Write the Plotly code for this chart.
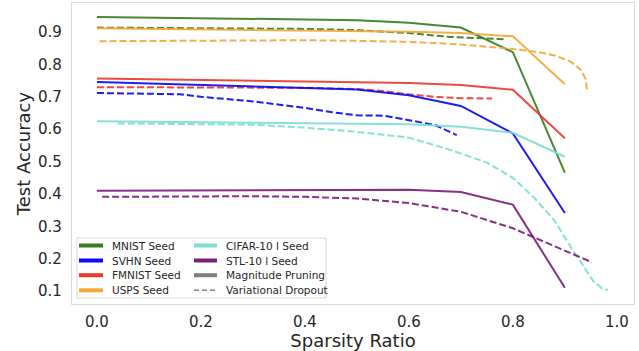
import plotly.graph_objects as go

# ---------------- data ----------------
seed_x = [0.0, 0.5, 0.6, 0.7, 0.8, 0.9]
mnist_seed = [0.947, 0.937, 0.929, 0.914, 0.838, 0.466]
svhn_seed = [0.746, 0.723, 0.705, 0.672, 0.587, 0.341]
fmnist_seed = [0.757, 0.745, 0.743, 0.737, 0.722, 0.572]
usps_seed = [0.912, 0.904, 0.901, 0.897, 0.887, 0.739]
cifar_seed = [0.625, 0.618, 0.615, 0.608, 0.589, 0.515]
stl_seed = [0.410, 0.414, 0.413, 0.406, 0.367, 0.110]

mnist_vd_x = [0.0, 0.2, 0.4, 0.5, 0.6, 0.68, 0.785]
mnist_vd = [0.914, 0.913, 0.910, 0.906, 0.897, 0.885, 0.878]

usps_vd_x = [0.005, 0.1, 0.2, 0.3, 0.4, 0.5, 0.6, 0.7, 0.8, 0.85, 0.88, 0.91, 0.93, 0.94, 0.943]
usps_vd = [0.872, 0.873, 0.875, 0.876, 0.875, 0.873, 0.870, 0.862, 0.848, 0.838, 0.828, 0.810, 0.785, 0.755, 0.715]

fmnist_vd_x = [0.0, 0.2, 0.4, 0.5, 0.55, 0.6, 0.65, 0.7, 0.76]
fmnist_vd = [0.730, 0.729, 0.728, 0.724, 0.718, 0.708, 0.700, 0.696, 0.695]

svhn_vd_x = [0.0, 0.1, 0.16, 0.2, 0.3, 0.4, 0.45, 0.5, 0.55, 0.6, 0.65, 0.692]
svhn_vd = [0.712, 0.710, 0.708, 0.700, 0.686, 0.666, 0.653, 0.643, 0.642, 0.628, 0.613, 0.582]

cifar_vd_x = [0.04, 0.1, 0.2, 0.3, 0.4, 0.5, 0.6, 0.68, 0.75, 0.8, 0.84, 0.88, 0.91, 0.93, 0.955, 0.97, 0.983]
cifar_vd = [0.618, 0.617, 0.616, 0.614, 0.605, 0.592, 0.574, 0.536, 0.497, 0.450, 0.390, 0.318, 0.240, 0.190, 0.130, 0.110, 0.103]

stl_vd_x = [0.01, 0.1, 0.2, 0.3, 0.4, 0.5, 0.6, 0.7, 0.8, 0.9, 0.952]
stl_vd = [0.391, 0.392, 0.393, 0.393, 0.391, 0.386, 0.372, 0.345, 0.294, 0.225, 0.189]

x_ticks = [0.0, 0.2, 0.4, 0.6, 0.8, 1.0]
y_ticks = [0.1, 0.2, 0.3, 0.4, 0.5, 0.6, 0.7, 0.8, 0.9]

colors = {
    "MNIST": "#3a7d22",
    "SVHN": "#0a0af5",
    "FMNIST": "#ee3a2e",
    "USPS": "#f4a93a",
    "CIFAR": "#7ddfd2",
    "STL": "#7d1f7d",
    "MAG": "#808080",
}

legend_left = [("MNIST Seed", colors["MNIST"]), ("SVHN Seed", colors["SVHN"]),
               ("FMNIST Seed", colors["FMNIST"]), ("USPS Seed", colors["USPS"])]
legend_right = [("CIFAR-10 l Seed", colors["CIFAR"]), ("STL-10 l Seed", colors["STL"]),
                ("Magnitude Pruning", colors["MAG"]), ("Variational Dropout", None)]

fig = go.Figure()

dash_style = "7px,3px"
series = [
    (seed_x, mnist_seed, colors["MNIST"], "solid"),
    (mnist_vd_x, mnist_vd, colors["MNIST"], dash_style),
    (seed_x, usps_seed, colors["USPS"], "solid"),
    (usps_vd_x, usps_vd, colors["USPS"], dash_style),
    (seed_x, fmnist_seed, colors["FMNIST"], "solid"),
    (fmnist_vd_x, fmnist_vd, colors["FMNIST"], dash_style),
    (seed_x, svhn_seed, colors["SVHN"], "solid"),
    (svhn_vd_x, svhn_vd, colors["SVHN"], dash_style),
    (seed_x, cifar_seed, colors["CIFAR"], "solid"),
    (cifar_vd_x, cifar_vd, colors["CIFAR"], dash_style),
    (seed_x, stl_seed, colors["STL"], "solid"),
    (stl_vd_x, stl_vd, colors["STL"], dash_style),
]
for xs, ys, c, d in series:
    fig.add_trace(go.Scatter(x=xs, y=ys, mode="lines", showlegend=False,
                             line=dict(color=c, width=2, dash=d), opacity=0.92))

# ---------------- manual legend (matplotlib-like) ----------------
W, H = 639, 351
L, R, T, B = 72, 5, 3, 47
pw, ph = W - L - R, H - T - B

def px2paper(x, y):
    return (x - L) / pw, 1 - (y - T) / ph

shapes = []
annotations = []
x0, y0 = px2paper(77, 238)
x1, y1 = px2paper(326, 298)
shapes.append(dict(type="rect", xref="paper", yref="paper", x0=x0, y0=y1, x1=x1, y1=y0,
                   line=dict(color="#d9d9d9", width=1), fillcolor="rgba(255,255,255,0.85)"))
rows = [245.5, 260.5, 275.2, 290.3]
for col, (hx0, hx1, tx) in zip([legend_left, legend_right], [(79, 103, 110), (194, 217, 224)]):
    for (label, c), ry in zip(col, rows):
        a0, yy = px2paper(hx0, ry)
        a1, _ = px2paper(hx1, ry)
        if c is None:
            shapes.append(dict(type="line", xref="paper", yref="paper", x0=a0, x1=a1, y0=yy, y1=yy,
                               line=dict(color="#808080", width=1.5, dash="5px,3px")))
        else:
            shapes.append(dict(type="line", xref="paper", yref="paper", x0=a0, x1=a1, y0=yy, y1=yy,
                               line=dict(color=c, width=4)))
        tpx, _ = px2paper(tx, ry)
        annotations.append(dict(x=tpx, y=yy, xref="paper", yref="paper", text=label,
                                showarrow=False, xanchor="left", yanchor="middle",
                                font=dict(size=10.5, color="#262626", family="DejaVu Sans")))

fig.update_layout(
    width=W, height=H,
    margin=dict(l=L, r=R, t=T, b=B),
    paper_bgcolor="white", plot_bgcolor="white",
    font=dict(family="DejaVu Sans", color="#262626"),
    shapes=shapes, annotations=annotations,
    showlegend=False,
)
fig.update_xaxes(range=[-0.048, 1.033], tickvals=x_ticks, ticktext=[f"{v:.1f}" for v in x_ticks],
                 showgrid=False, zeroline=False, showline=True, mirror=True,
                 linecolor="#dcdcdc", linewidth=1.2, ticks="outside", ticklen=4,
                 tickcolor="rgba(0,0,0,0)", tickfont=dict(size=15, color="#262626"),
                 title=dict(text="Sparsity Ratio", font=dict(size=18, color="#262626"), standoff=3),
                 automargin=False)
fig.update_yaxes(range=[0.06, 0.99], tickvals=y_ticks, ticktext=[f"{v:.1f}" for v in y_ticks],
                 showgrid=False, zeroline=False, showline=True, mirror=True,
                 linecolor="#dcdcdc", linewidth=1.2, ticks="outside", ticklen=6,
                 tickcolor="rgba(0,0,0,0)", tickfont=dict(size=15, color="#262626"),
                 title=dict(text="Test Accuracy", font=dict(size=18, color="#262626"), standoff=2),
                 automargin=False)

fig.write_html("out.html")
